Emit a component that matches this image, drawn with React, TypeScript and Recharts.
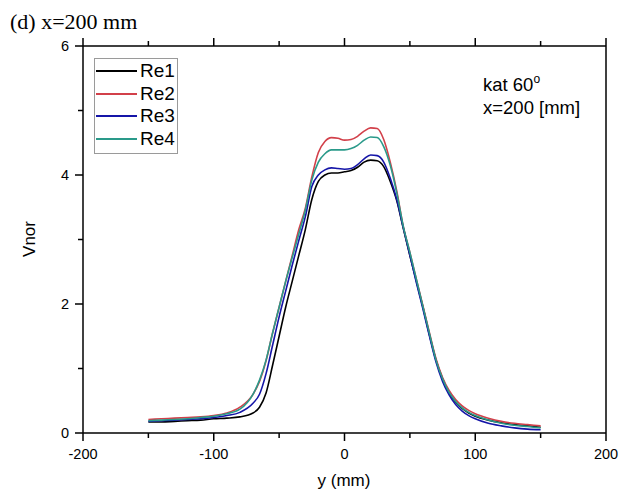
import React from "react";
import { Legend, Line, LineChart, XAxis, YAxis } from "recharts";

// y position across the section (mm)
const positions = [
  -150, -140, -130, -120, -110, -100, -90, -80, -70, -65, -60, -55, -50, -45, -40, -35, -30, -25, -20, -15, -10, -5,
  0, 5, 10, 15, 20, 25, 30, 35, 40, 45, 50, 55, 60, 65, 70, 75, 80, 85, 90, 95, 100, 110, 120, 130, 140, 150,
];

const re1 = [
  0.17, 0.17, 0.18, 0.19, 0.2, 0.22, 0.23, 0.25, 0.31, 0.4, 0.62, 1.05, 1.5, 1.95, 2.35, 2.75, 3.15, 3.62, 3.9, 4.0,
  4.03, 4.03, 4.05, 4.07, 4.12, 4.2, 4.23, 4.22, 4.13, 3.9, 3.6, 3.17, 2.75, 2.35, 1.95, 1.52, 1.13, 0.84, 0.62, 0.48,
  0.38, 0.31, 0.26, 0.2, 0.16, 0.13, 0.11, 0.09,
];
const re2 = [
  0.21, 0.22, 0.23, 0.24, 0.25, 0.27, 0.31, 0.4, 0.6, 0.8, 1.12, 1.55, 1.95, 2.35, 2.75, 3.15, 3.48, 3.97, 4.35, 4.52,
  4.58, 4.57, 4.54, 4.55, 4.6, 4.68, 4.73, 4.72, 4.55, 4.2, 3.75, 3.2, 2.8, 2.38, 1.97, 1.55, 1.15, 0.86, 0.66, 0.52,
  0.42, 0.35, 0.3, 0.23, 0.18, 0.15, 0.13, 0.11,
];
const re3 = [
  0.18, 0.19, 0.2, 0.21, 0.22, 0.24, 0.27, 0.32, 0.46, 0.6, 0.92, 1.36, 1.8, 2.2, 2.6, 2.98, 3.35, 3.82, 4.0, 4.08,
  4.11, 4.1, 4.09, 4.1, 4.16, 4.25, 4.31, 4.3, 4.2, 3.95, 3.62, 3.18, 2.76, 2.33, 1.92, 1.5, 1.1, 0.8, 0.59, 0.44,
  0.34, 0.27, 0.22, 0.15, 0.11, 0.08, 0.06, 0.05,
];
const re4 = [
  0.19, 0.2, 0.21, 0.22, 0.24, 0.26, 0.3, 0.37, 0.6, 0.82, 1.13, 1.55, 1.95, 2.35, 2.72, 3.08, 3.45, 3.92, 4.2, 4.33,
  4.39, 4.39, 4.39, 4.41, 4.46, 4.54, 4.59, 4.58, 4.44, 4.15, 3.72, 3.2, 2.8, 2.38, 1.96, 1.54, 1.13, 0.84, 0.63, 0.49,
  0.39, 0.32, 0.27, 0.2, 0.15, 0.12, 0.1, 0.08,
];

const xTicks = [-200, -150, -100, -50, 0, 50, 100, 150, 200];
const xLabels = [-200, -100, 0, 100, 200];
const yTicks = [0, 1, 2, 3, 4, 5, 6];
const yLabels = [0, 2, 4, 6];

const data = positions.map((p, i) => ({ p, re1: re1[i], re2: re2[i], re3: re3[i], re4: re4[i] }));

const font = "'Liberation Sans', Arial, sans-serif";

function BottomTick({ x, y, payload }: any) {
  const major = xLabels.includes(payload.value);
  return (
    <g>
      <line x1={x} x2={x} y1={y} y2={y + (major ? 8 : 5)} stroke="#000" strokeWidth={1.5} />
      {major && (
        <text x={x} y={y + 26} textAnchor="middle" fontSize={14.5} fontFamily={font} fill="#000">
          {payload.value}
        </text>
      )}
    </g>
  );
}

function TopTick({ x, y, payload }: any) {
  const major = xLabels.includes(payload.value);
  return <line x1={x} x2={x} y1={y} y2={y - (major ? 8 : 5)} stroke="#000" strokeWidth={1.5} />;
}

function LeftTick({ x, y, payload }: any) {
  const major = yLabels.includes(payload.value);
  return (
    <g>
      <line x1={x} x2={x - (major ? 8 : 5)} y1={y} y2={y} stroke="#000" strokeWidth={1.5} />
      {major && (
        <text x={x - 14} y={y + 5} textAnchor="end" fontSize={14.5} fontFamily={font} fill="#000">
          {payload.value}
        </text>
      )}
    </g>
  );
}

function RightTick({ x, y, payload }: any) {
  const major = yLabels.includes(payload.value);
  return <line x1={x} x2={x + (major ? 8 : 5)} y1={y} y2={y} stroke="#000" strokeWidth={1.5} />;
}

function LegendBox({ payload }: any) {
  return (
    <div
      style={{
        border: "1px solid #9a9a9a",
        background: "#fff",
        padding: "1px 0 3px 1px",
        fontFamily: font,
        fontSize: 19,
        lineHeight: "22.5px",
        width: 84,
        boxSizing: "border-box",
      }}
    >
      {(payload || []).map((e: any) => (
        <div key={e.value} style={{ display: "flex", alignItems: "center" }}>
          <span style={{ display: "inline-block", width: 41, height: 2, background: e.color, marginRight: 3 }} />
          <span>{e.value}</span>
        </div>
      ))}
    </div>
  );
}

export default function App() {
  const axisLine = { stroke: "#000", strokeWidth: 1.5 };
  return (
    <div
      style={{
        position: "fixed",
        left: 0,
        top: 0,
        width: 628,
        height: 494,
        overflow: "hidden",
        background: "#fff",
        fontFamily: font,
      }}
    >
      <LineChart width={628} height={494} data={data} margin={{ top: 45, right: 21, bottom: 31, left: 43 }}>
        <XAxis
          dataKey="p"
          type="number"
          domain={[-200, 200]}
          ticks={xTicks}
          height={30}
          tickSize={0}
          tickMargin={0}
          tickLine={false}
          axisLine={axisLine}
          tick={<BottomTick />}
          interval={0}
        />
        <XAxis
          xAxisId="top"
          orientation="top"
          dataKey="p"
          type="number"
          domain={[-200, 200]}
          ticks={xTicks}
          height={1}
          tickSize={0}
          tickMargin={0}
          tickLine={false}
          axisLine={axisLine}
          tick={<TopTick />}
          interval={0}
        />
        <YAxis
          type="number"
          domain={[0, 6]}
          ticks={yTicks}
          width={40}
          tickSize={0}
          tickMargin={0}
          tickLine={false}
          axisLine={axisLine}
          tick={<LeftTick />}
          interval={0}
        />
        <YAxis
          yAxisId="right"
          orientation="right"
          type="number"
          domain={[0, 6]}
          ticks={yTicks}
          width={1}
          tickSize={0}
          tickMargin={0}
          tickLine={false}
          axisLine={axisLine}
          tick={<RightTick />}
          interval={0}
        />
        <Legend
          layout="vertical"
          align="center"
          verticalAlign="middle"
          wrapperStyle={{ position: "absolute", left: 94, top: 58, width: 84 }}
          content={<LegendBox />}
        />
        <Line name="Re1" dataKey="re1" type="monotone" stroke="#000000" strokeWidth={1.6} dot={false} isAnimationActive={false} />
        <Line name="Re2" dataKey="re2" type="monotone" stroke="#d2404a" strokeWidth={1.6} dot={false} isAnimationActive={false} />
        <Line name="Re3" dataKey="re3" type="monotone" stroke="#1515a8" strokeWidth={1.6} dot={false} isAnimationActive={false} />
        <Line name="Re4" dataKey="re4" type="monotone" stroke="#2a9a8a" strokeWidth={1.6} dot={false} isAnimationActive={false} />
      </LineChart>

      <div
        style={{
          position: "absolute",
          left: 10,
          top: 9,
          fontFamily: "'Liberation Serif', 'Times New Roman', serif",
          fontSize: 22,
          color: "#000",
        }}
      >
        (d) x=200 mm
      </div>

      <div style={{ position: "absolute", left: 483, top: 73, fontSize: 18.5, lineHeight: "23px", color: "#000" }}>
        <div>
          kat 60<sup style={{ fontSize: 12, verticalAlign: "top", lineHeight: "12px" }}>o</sup>
        </div>
        <div>x=200 [mm]</div>
      </div>

      <div
        style={{
          position: "absolute",
          left: 30,
          top: 239,
          fontSize: 17,
          color: "#000",
          transform: "translate(-50%, -50%) rotate(-90deg)",
          whiteSpace: "nowrap",
        }}
      >
        Vnor
      </div>

      <div
        style={{
          position: "absolute",
          left: 344,
          top: 481,
          fontSize: 17,
          color: "#000",
          transform: "translate(-50%, -50%)",
          whiteSpace: "nowrap",
        }}
      >
        y (mm)
      </div>
    </div>
  );
}
